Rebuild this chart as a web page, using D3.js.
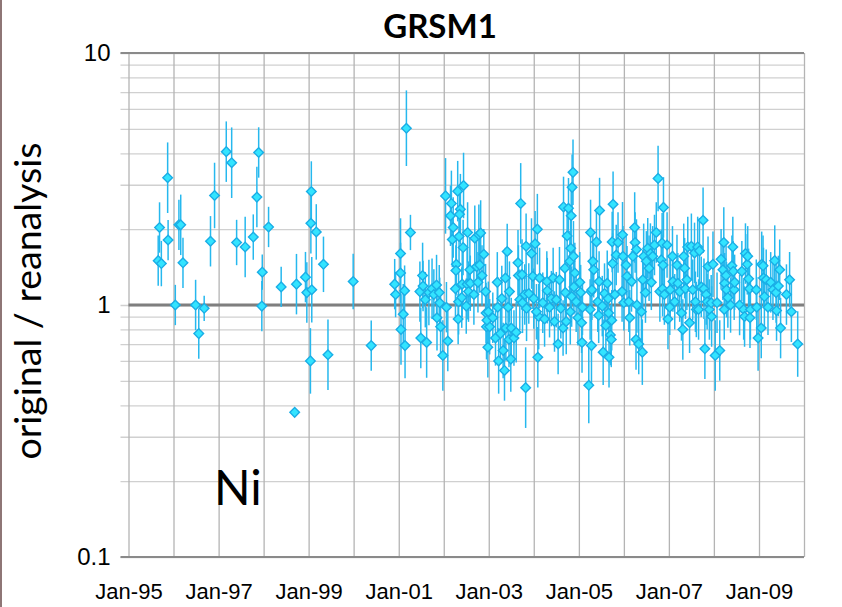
<!DOCTYPE html>
<html>
<head>
<meta charset="utf-8">
<script src="https://cdn.jsdelivr.net/npm/d3@7"></script>
<style>
  html, body { margin: 0; padding: 0; background: #ffffff; }
  svg { display: block; }
</style>
</head>
<body>
<svg id="chart" width="842" height="607"></svg>
<script>
// ---------------- DATA ----------------
const title = "GRSM1";
const yTitle = "original / reanalysis";
const speciesLabel = "Ni";
const yTickLabels = [0.1, 1, 10];
const yGridValues = [0.1,0.2,0.3,0.4,0.5,0.6,0.7,0.8,0.9,1,2,3,4,5,6,7,8,9,10];
const xLabelYears = [1995, 1997, 1999, 2001, 2003, 2005, 2007, 2009];
const xGridYears = [1995,1996,1997,1998,1999,2000,2001,2002,2003,2004,2005,2006,2007,2008,2009,2010];
const referenceValue = 1;

// [decimal year, original/reanalysis ratio, error half-width (log10 units)]
const points = [
  [1995.69,2.03,0.10],[1995.66,1.50,0.10],[1995.73,1.46,0.09],[1995.87,3.20,0.14],[1995.88,1.81,0.08],
  [1996.12,2.08,0.10],[1996.16,2.08,0.12],[1996.21,1.47,0.10],[1996.04,1.00,0.08],[1996.49,1.00,0.10],
  [1996.68,0.97,0.05],[1996.56,0.77,0.10],[1996.82,1.79,0.10],[1996.91,2.72,0.13],[1997.17,4.06,0.12],
  [1997.29,3.67,0.14],[1997.40,1.77,0.09],[1997.59,1.70,0.12],[1997.77,1.86,0.09],[1997.89,4.03,0.10],
  [1997.85,2.68,0.12],[1998.11,2.04,0.08],[1997.97,1.35,0.07],[1997.96,0.99,0.10],[1998.39,1.18,0.08],
  [1998.73,1.21,0.12],[1998.93,1.29,0.10],[1998.96,1.12,0.12],[1999.07,1.15,0.13],[1999.06,2.82,0.12],
  [1999.05,2.11,0.12],[1999.17,1.95,0.11],[1999.33,1.45,0.11],[1999.04,0.60,0.13],[1999.43,0.635,0.14],
  [1998.69,0.375,0.0],[1999.99,1.24,0.11],[2000.39,0.69,0.10],
  [2001.17,5.03,0.15],[2001.26,1.94,0.07],[2001.04,1.60,0.14],[2001.04,1.34,0.12],[2000.91,1.21,0.10],
  [2000.93,1.10,0.09],[2001.13,1.14,0.10],[2001.10,0.92,0.12],[2001.05,0.80,0.14],[2001.14,0.69,0.13],
  [2001.47,1.13,0.12],[2001.53,1.31,0.13],[2001.49,0.74,0.12],[2001.62,0.71,0.14],[2001.54,1.19,0.10],
  [2001.59,1.05,0.11],[2001.67,1.12,0.13],[2001.74,1.16,0.12],[2001.78,1.10,0.10],[2001.84,1.20,0.12],
  [2001.90,1.12,0.11],[2001.85,0.89,0.13],[2001.93,0.82,0.12],[2001.91,1.02,0.10],[2001.98,0.63,0.14],
  [2002.06,0.98,0.10],[2002.09,0.72,0.12],[2002.04,2.71,0.15],[2002.17,2.53,0.13],[2002.15,2.26,0.12],
  [2002.21,2.03,0.12],[2002.19,1.82,0.11],[2002.31,2.83,0.12],[2002.44,2.98,0.13],[2002.37,2.40,0.14],
  [2002.35,2.29,0.10],[2002.34,1.87,0.12],[2002.43,1.69,0.11],[2002.28,1.45,0.12],[2002.27,1.37,0.10],
  [2002.26,1.16,0.11],[2002.33,1.03,0.13],[2002.32,0.88,0.10],[2002.41,1.21,0.13],[2002.40,1.07,0.12],
  [2002.53,1.94,0.12],[2002.52,1.21,0.14],[2002.50,0.99,0.11],[2002.58,1.38,0.13],[2002.59,1.22,0.11],
  [2002.55,1.13,0.12],[2002.69,1.84,0.13],[2002.73,1.42,0.12],[2002.67,1.10,0.12],[2002.78,1.90,0.12],
  [2002.82,1.93,0.13],[2002.80,1.44,0.11],[2002.76,1.23,0.12],[2002.89,1.59,0.10],[2002.85,1.31,0.12],
  [2002.93,1.13,0.11],[2002.94,0.93,0.12],[2002.95,0.82,0.13],[2002.98,0.68,0.12],
  [2002.99,0.94,0.12],[2003.02,0.82,0.11],[2002.96,0.87,0.12],[2003.09,0.89,0.10],[2003.15,0.74,0.11],
  [2003.19,1.23,0.12],[2003.22,0.60,0.13],[2003.20,0.98,0.12],[2003.26,0.77,0.12],[2003.29,1.06,0.13],
  [2003.32,0.66,0.11],[2003.35,0.55,0.12],[2003.37,1.28,0.12],[2003.38,0.81,0.13],[2003.43,0.98,0.12],
  [2003.41,1.63,0.11],[2003.46,1.13,0.12],[2003.45,0.73,0.11],[2003.49,0.61,0.13],[2003.50,0.81,0.12],
  [2003.56,0.74,0.11],[2003.61,0.78,0.12],[2003.65,1.47,0.13],[2003.66,1.31,0.12],[2003.69,1.05,0.12],
  [2003.71,2.53,0.16],[2003.74,1.32,0.14],[2003.75,1.02,0.12],[2003.83,1.71,0.13],[2003.80,1.10,0.12],
  [2003.84,0.97,0.13],[2003.82,0.47,0.16],[2003.89,1.11,0.12],[2003.95,1.60,0.14],[2003.98,1.30,0.13],
  [2004.00,1.06,0.12],[2004.03,1.75,0.13],[2004.08,2.00,0.14],[2004.09,0.62,0.12],[2004.11,0.90,0.13],
  [2004.13,1.28,0.12],[2004.06,0.94,0.11],[2004.20,1.02,0.12],[2004.24,0.88,0.11],[2004.29,1.24,0.12],
  [2004.30,1.14,0.13],[2004.35,0.98,0.12],[2004.39,1.06,0.11],[2004.43,1.28,0.12],[2004.46,0.86,0.12],
  [2004.50,1.05,0.11],[2004.54,0.70,0.12],[2004.57,1.26,0.13],[2004.60,0.97,0.12],[2004.65,0.81,0.11],
  [2004.66,2.45,0.12],[2004.69,1.40,0.14],[2004.70,1.12,0.12],[2004.72,0.86,0.13],[2004.74,1.88,0.12],
  [2004.77,2.42,0.12],[2004.82,1.68,0.13],[2004.80,1.49,0.12],[2004.83,2.26,0.12],[2004.85,2.93,0.13],
  [2004.87,3.36,0.13],[2004.88,1.56,0.14],[2004.84,1.08,0.12],[2004.81,0.94,0.13],[2004.91,1.34,0.12],
  [2004.89,1.18,0.11],[2004.94,1.03,0.12],[2004.98,0.89,0.11],[2005.02,1.23,0.12],[2005.06,0.85,0.12],
  [2005.04,1.12,0.11],[2005.07,0.71,0.12],[2005.08,0.98,0.11],[2005.26,1.94,0.13],[2005.27,1.13,0.12],
  [2005.28,0.69,0.15],[2005.22,0.48,0.15],[2005.25,0.96,0.12],
  [2005.31,1.49,0.12],[2005.33,1.38,0.11],[2005.29,1.15,0.12],[2005.39,1.78,0.12],[2005.46,2.37,0.13],
  [2005.45,1.24,0.12],[2005.42,1.03,0.12],[2005.44,0.91,0.11],[2005.52,0.99,0.12],[2005.54,0.65,0.13],
  [2005.57,1.11,0.12],[2005.60,0.83,0.12],[2005.63,1.22,0.13],[2005.65,1.06,0.12],[2005.66,0.93,0.11],
  [2005.67,0.62,0.12],[2005.70,0.76,0.12],[2005.72,0.73,0.11],[2005.73,0.87,0.12],[2005.74,1.78,0.12],
  [2005.76,2.51,0.13],[2005.75,1.46,0.12],[2005.80,1.10,0.11],[2005.83,1.58,0.12],[2005.87,1.77,0.12],
  [2005.97,1.90,0.13],[2005.98,1.56,0.12],[2005.96,1.13,0.12],[2006.00,1.02,0.11],[2006.05,1.44,0.12],
  [2006.07,1.30,0.12],[2006.11,1.03,0.12],[2006.13,0.89,0.11],[2006.17,1.24,0.12],[2006.20,1.56,0.12],
  [2006.24,2.03,0.14],[2006.25,1.77,0.12],[2006.28,1.66,0.12],[2006.29,1.00,0.11],[2006.27,0.73,0.12],
  [2006.33,0.70,0.12],[2006.39,0.94,0.12],[2006.41,0.65,0.13],[2006.42,1.26,0.12],[2006.44,1.56,0.13],
  [2006.48,1.12,0.12],[2006.50,1.49,0.12],[2006.53,1.68,0.12],[2006.56,1.40,0.13],[2006.59,1.60,0.12],
  [2006.61,1.23,0.11],[2006.64,1.56,0.12],[2006.68,1.73,0.12],[2006.72,1.94,0.12],[2006.76,3.18,0.13],
  [2006.80,1.13,0.12],[2006.83,1.51,0.12],[2006.85,1.76,0.12],[2006.87,1.44,0.12],[2006.88,2.44,0.12],
  [2006.86,1.16,0.11],[2006.90,1.10,0.12],[2006.96,1.73,0.13],[2006.98,0.88,0.12],[2007.02,0.98,0.11],
  [2007.03,1.15,0.12],[2007.08,1.56,0.12],[2007.09,1.24,0.12],[2007.13,1.03,0.11],[2007.18,1.44,0.12],
  [2007.20,1.22,0.12],[2007.24,1.13,0.12],[2007.28,0.93,0.11],[2007.31,0.80,0.12],[2007.33,1.56,0.13],
  [2007.35,1.40,0.12],[2007.37,1.16,0.12],[2007.40,1.26,0.12],[2007.42,1.70,0.12],[2007.46,0.85,0.12],
  [2007.50,1.71,0.13],[2007.53,1.15,0.12],[2007.57,1.61,0.12],[2007.59,1.03,0.12],[2007.61,0.96,0.11],
  [2007.64,1.70,0.12],
  [2007.76,2.17,0.13],[2007.68,1.64,0.13],[2007.72,1.18,0.12],[2007.78,1.16,0.12],[2007.66,0.96,0.12],
  [2007.83,1.10,0.12],[2007.85,1.03,0.11],[2007.80,0.67,0.12],[2007.87,1.42,0.12],[2007.90,0.96,0.12],
  [2007.94,1.02,0.11],[2007.98,1.45,0.13],[2007.95,0.90,0.12],[2008.03,0.63,0.14],[2008.07,1.02,0.12],
  [2008.13,0.66,0.12],[2008.16,1.52,0.12],[2008.20,1.38,0.12],[2008.22,1.77,0.14],[2008.24,1.22,0.12],
  [2008.23,0.96,0.12],[2008.27,1.31,0.12],[2008.28,1.15,0.11],[2008.31,1.07,0.12],[2008.37,1.00,0.11],
  [2008.40,1.43,0.12],[2008.42,1.70,0.12],[2008.43,1.36,0.12],[2008.45,1.15,0.12],[2008.46,1.23,0.11],
  [2008.57,1.00,0.12],[2008.62,1.36,0.12],[2008.66,0.96,0.12],[2008.68,0.90,0.12],[2008.70,1.60,0.12],
  [2008.74,1.45,0.12],[2008.75,1.56,0.12],[2008.77,1.27,0.12],[2008.79,1.16,0.11],[2008.81,0.96,0.12],
  [2008.80,0.89,0.12],[2008.94,1.15,0.12],[2008.95,0.98,0.12],[2008.98,0.74,0.13],[2009.05,0.81,0.12],
  [2009.06,1.45,0.13],[2009.09,1.43,0.12],[2009.10,1.28,0.12],[2009.16,1.26,0.12],[2009.12,1.08,0.12],
  [2009.20,0.98,0.11],[2009.26,1.23,0.12],[2009.31,1.15,0.12],[2009.35,1.50,0.14],[2009.38,1.12,0.12],
  [2009.39,0.95,0.12],[2009.46,1.38,0.12],[2009.43,1.19,0.12],[2009.48,0.81,0.12],[2009.61,1.10,0.12],
  [2009.68,1.26,0.11],[2009.72,0.94,0.12],[2009.86,0.70,0.13]
];

// ---------------- LAYOUT ----------------
const svg = d3.select("#chart");
const plot = { left: 128.5, right: 804, top: 53, bottom: 557 };

const toDate = (yr) => {
  const y = Math.floor(yr);
  const start = new Date(y, 0, 1), end = new Date(y + 1, 0, 1);
  return new Date(start.getTime() + (yr - y) * (end - start));
};

const x = d3.scaleTime()
  .domain([new Date(1995, 0, 1), new Date(2010, 0, 1)])
  .range([plot.left, plot.right]);
const y = d3.scaleLog()
  .domain([0.1, 10])
  .range([plot.bottom, plot.top]);

// left slide border
svg.append("rect").attr("x", 0).attr("y", 0).attr("width", 2).attr("height", 607).attr("fill", "#8e7676");

// horizontal grid + left tick marks
const yGrid = svg.append("g")
  .attr("transform", `translate(${plot.left - 8},0)`)
  .call(d3.axisRight(y).tickValues(yGridValues).tickSize(plot.right - plot.left + 8).tickFormat(""));
yGrid.select(".domain").remove();
yGrid.selectAll(".tick line").attr("stroke", "#d0d0d0").attr("stroke-width", 1.3);

// vertical grid
const xGrid = svg.append("g")
  .attr("transform", `translate(0,${plot.bottom})`)
  .call(d3.axisBottom(x).tickValues(xGridYears.map(v => new Date(v, 0, 1)))
    .tickSize(-(plot.bottom - plot.top)).tickFormat(""));
xGrid.select(".domain").remove();
xGrid.selectAll(".tick line").attr("stroke", "#b4b4b4").attr("stroke-width", 1.3);

// top & bottom frame lines
[10, 0.1].forEach(v => {
  svg.append("line")
    .attr("x1", plot.left - 8).attr("x2", plot.right)
    .attr("y1", y(v)).attr("y2", y(v))
    .attr("stroke", "#8a8a8a").attr("stroke-width", 2);
});

// reference line at 1
svg.append("line")
  .attr("x1", plot.left).attr("x2", plot.right)
  .attr("y1", y(referenceValue)).attr("y2", y(referenceValue))
  .attr("stroke", "#7f7f7f").attr("stroke-width", 3);

// y tick labels
const yAxis = svg.append("g")
  .attr("transform", `translate(${plot.left - 14},0)`)
  .call(d3.axisLeft(y).tickValues(yTickLabels).tickSize(0).tickPadding(4)
    .tickFormat(d => d3.format("~g")(d)));
yAxis.select(".domain").remove();
yAxis.selectAll("text")
  .attr("font-family", "'Liberation Sans', Arial, sans-serif")
  .attr("font-size", 24).attr("fill", "#000");

// x tick labels
const xAxis = svg.append("g")
  .attr("transform", `translate(0,${plot.bottom})`)
  .call(d3.axisBottom(x).tickValues(xLabelYears.map(v => new Date(v, 0, 1)))
    .tickSize(0).tickPadding(26).tickFormat(d3.timeFormat("%b-%y")));
xAxis.select(".domain").remove();
xAxis.selectAll("text")
  .attr("font-family", "'Liberation Sans', Arial, sans-serif")
  .attr("font-size", 22).attr("fill", "#000");

// error bars
svg.append("g").selectAll("line")
  .data(points.filter(d => d[2] > 0))
  .join("line")
  .attr("x1", d => x(toDate(d[0]))).attr("x2", d => x(toDate(d[0])))
  .attr("y1", d => y(d[1] * Math.pow(10, d[2])))
  .attr("y2", d => y(d[1] / Math.pow(10, d[2])))
  .attr("stroke", "#26b8ee").attr("stroke-width", 1.5);

// diamond markers (square rotated 45 degrees)
const diamond = d3.symbol().type(d3.symbolSquare).size(46);
svg.append("g").selectAll("path")
  .data(points)
  .join("path")
  .attr("d", diamond)
  .attr("transform", d => `translate(${x(toDate(d[0]))},${y(d[1])}) rotate(45)`)
  .attr("fill", "#33e4ff")
  .attr("stroke", "#1aaee6")
  .attr("stroke-width", 1.4);

// title
svg.append("text")
  .attr("x", 440).attr("y", 38)
  .attr("text-anchor", "middle")
  .attr("font-family", "Lato, 'Open Sans', sans-serif")
  .attr("font-weight", "bold")
  .attr("font-size", 33)
  .attr("fill", "#000")
  .text(title);

// y axis title
svg.append("text")
  .attr("transform", `translate(41,${(plot.top + plot.bottom) / 2 - 4}) rotate(-90)`)
  .attr("text-anchor", "middle")
  .attr("font-family", "Lato, 'Open Sans', sans-serif")
  .attr("font-size", 37.5)
  .attr("fill", "#000")
  .text(yTitle);

// species label
svg.append("text")
  .attr("x", 214).attr("y", 505)
  .attr("font-family", "Lato, 'Open Sans', sans-serif")
  .attr("font-size", 48)
  .attr("fill", "#000")
  .text(speciesLabel);
</script>
</body>
</html>
